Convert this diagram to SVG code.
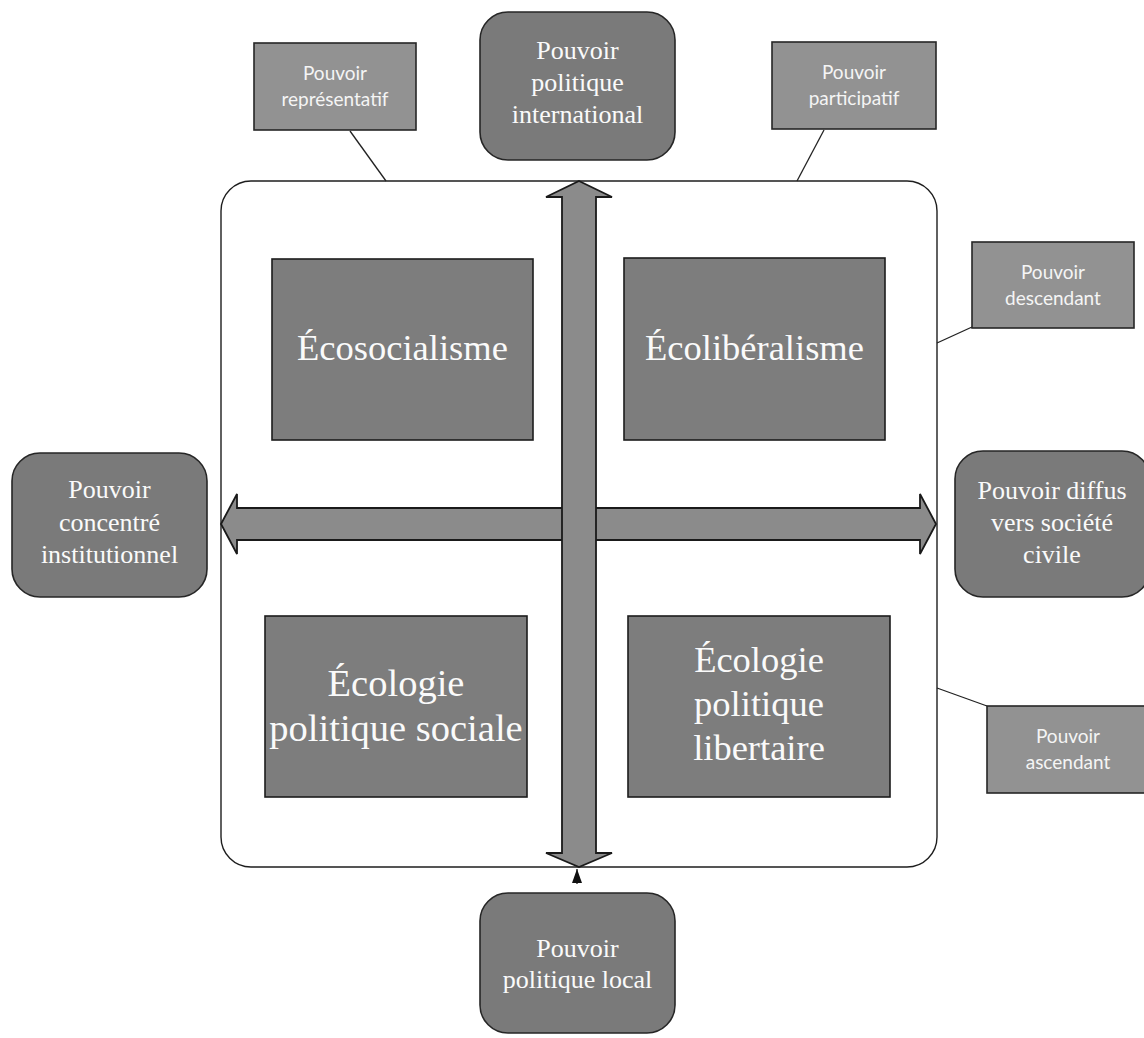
<svg xmlns="http://www.w3.org/2000/svg" width="1144" height="1038" viewBox="0 0 1144 1038">
  <style>
    .frame{fill:#ffffff;stroke:#1e1e1e;stroke-width:1.4}
    .quad{fill:#7d7d7d;stroke:#1c1c1c;stroke-width:1.6}
    .round{fill:#7a7a7a;stroke:#262626;stroke-width:1.6}
    .tag{fill:#929292;stroke:#262626;stroke-width:1.6}
    .axis{fill:#8b8b8b;stroke:#1a1a1a;stroke-width:1.8;stroke-linejoin:miter}
    .lead{fill:none;stroke:#222222;stroke-width:1.3}
    .serif{font-family:"Liberation Serif","Times New Roman",serif;fill:#fafafa;text-anchor:middle}
    .big{font-size:36.5px}
    .mid{font-size:26px}
    .sans{font-family:Lato,"Liberation Sans",sans-serif;font-size:19px;fill:#f5f5f5;text-anchor:middle}
  </style>
  <defs>
    <marker id="tip" viewBox="0 0 14 10" refX="14" refY="5" markerWidth="14" markerHeight="10" markerUnits="userSpaceOnUse" orient="auto">
      <path d="M0,0 L14,5 L0,10 Z" fill="#111111"/>
    </marker>
  </defs>

  <rect width="1144" height="1038" fill="#ffffff"/>

  <!-- outer frame holding the four quadrants -->
  <g id="frame">
    <rect class="frame" x="221" y="181" width="716" height="686" rx="30"/>
  </g>

  <!-- quadrants -->
  <g id="ecosocialisme">
    <rect class="quad" x="272" y="259" width="261" height="181"/>
    <text class="serif big" x="402.5" y="360">Écosocialisme</text>
  </g>
  <g id="ecoliberalisme">
    <rect class="quad" x="624" y="258" width="261" height="182"/>
    <text class="serif big" x="754.5" y="360">Écolibéralisme</text>
  </g>
  <g id="ecologie-sociale">
    <rect class="quad" x="265" y="616" width="262" height="181"/>
    <text class="serif big" x="396" y="696" style="font-size:38.5px">Écologie</text>
    <text class="serif big" x="396" y="741" style="font-size:38.5px">politique sociale</text>
  </g>
  <g id="ecologie-libertaire">
    <rect class="quad" x="628" y="616" width="262" height="181"/>
    <text class="serif big" x="759" y="672">Écologie</text>
    <text class="serif big" x="759" y="716">politique</text>
    <text class="serif big" x="759" y="760">libertaire</text>
  </g>

  <!-- crossing double arrows -->
  <g id="axes">
    <path class="axis" d="M221,524 L237,494 L237,508 L920,508 L920,494 L936,524 L920,554 L920,540 L237,540 L237,554 Z"/>
    <path class="axis" d="M579,181 L612,197 L596,197 L596,853 L612,853 L579,867 L546,853 L562,853 L562,197 L546,197 Z"/>
  </g>

  <!-- lead lines and the small pointer -->
  <g id="connectors">
    <line class="lead" x1="350" y1="131" x2="386" y2="181"/>
    <line class="lead" x1="824" y1="130" x2="797" y2="181"/>
    <line class="lead" x1="972" y1="327" x2="937" y2="343"/>
    <line class="lead" x1="987" y1="706" x2="937" y2="688"/>
    <line class="lead" x1="577" y1="884" x2="577" y2="869" marker-end="url(#tip)"/>
  </g>

  <!-- rounded power boxes -->
  <g id="international">
    <rect class="round" x="480" y="12" width="195" height="148" rx="28"/>
    <text class="serif mid" x="577.5" y="59">Pouvoir</text>
    <text class="serif mid" x="577.5" y="91">politique</text>
    <text class="serif mid" x="577.5" y="123">international</text>
  </g>
  <g id="concentre">
    <rect class="round" x="12" y="453" width="195" height="144" rx="28"/>
    <text class="serif mid" x="109.5" y="498">Pouvoir</text>
    <text class="serif mid" x="109.5" y="531">concentré</text>
    <text class="serif mid" x="109.5" y="563">institutionnel</text>
  </g>
  <g id="diffus">
    <rect class="round" x="955" y="451" width="195" height="146" rx="28"/>
    <text class="serif mid" x="1052" y="499">Pouvoir diffus</text>
    <text class="serif mid" x="1052" y="531">vers société</text>
    <text class="serif mid" x="1052" y="563">civile</text>
  </g>
  <g id="local">
    <rect class="round" x="480" y="893" width="195" height="140" rx="28"/>
    <text class="serif mid" x="577.5" y="957">Pouvoir</text>
    <text class="serif mid" x="577.5" y="988">politique local</text>
  </g>

  <!-- rectangular power tags -->
  <g id="representatif">
    <rect class="tag" x="254" y="43" width="162" height="87"/>
    <text class="sans" x="335" y="80">Pouvoir</text>
    <text class="sans" x="335" y="106">représentatif</text>
  </g>
  <g id="participatif">
    <rect class="tag" x="772" y="42" width="164" height="87"/>
    <text class="sans" x="854" y="79">Pouvoir</text>
    <text class="sans" x="854" y="105">participatif</text>
  </g>
  <g id="descendant">
    <rect class="tag" x="972" y="242" width="162" height="86"/>
    <text class="sans" x="1053" y="279">Pouvoir</text>
    <text class="sans" x="1053" y="305">descendant</text>
  </g>
  <g id="ascendant">
    <rect class="tag" x="987" y="706" width="162" height="87"/>
    <text class="sans" x="1068" y="743">Pouvoir</text>
    <text class="sans" x="1068" y="769">ascendant</text>
  </g>
</svg>
